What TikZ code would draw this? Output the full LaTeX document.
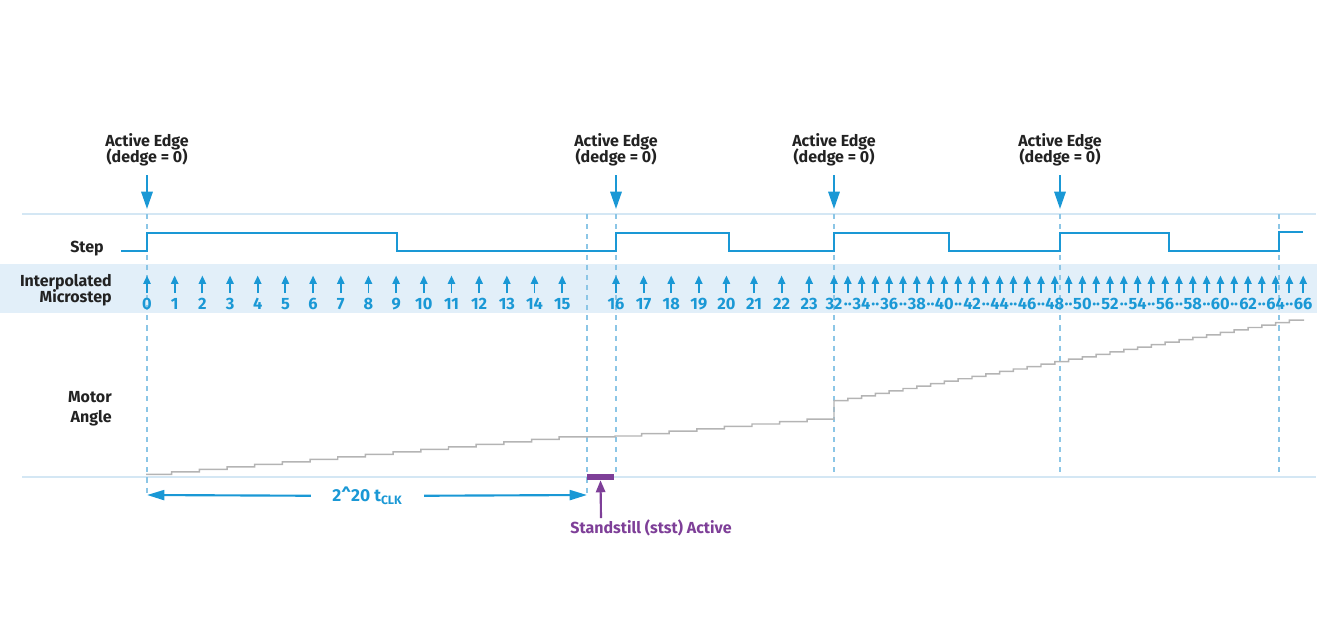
\documentclass[tikz,border=0pt]{standalone}
\usepackage{fontspec}
\setmainfont{Fira Sans}
\usetikzlibrary{arrows.meta}
\definecolor{adiblue}{HTML}{1A98D5}
\definecolor{bandblue}{HTML}{E2EFF9}
\definecolor{rulecol}{HTML}{D4E7F4}
\definecolor{dashblue}{HTML}{8CC6E6}
\definecolor{stair}{HTML}{B4B4B4}
\definecolor{ststcol}{HTML}{7E3F98}
\definecolor{ink}{HTML}{222222}
\newcommand\mytightlines{\lineskiplimit-20pt\relax}
\begin{document}
\begin{tikzpicture}[x=0.75pt,y=-0.75pt,
  lbl/.style={font=\bfseries\fontsize{12}{12}\selectfont\mytightlines, text=ink, inner sep=0pt},
  num/.style={font=\bfseries\fontsize{12.3}{12}\selectfont, text=adiblue, inner sep=0pt, anchor=base},
  msarrow/.style={adiblue, line width=1.4pt, -{Triangle[length=6.3pt,width=5.4pt]}},
  aearrow/.style={adiblue, line width=1.6pt, -{Triangle[length=13pt,width=8.5pt]}},
  dimarrow/.style={adiblue, line width=1.6pt, -{Triangle[length=13pt,width=7.5pt]}},
  ststarrow/.style={ststcol, line width=1.6pt, -{Triangle[length=9pt,width=7pt]}},
  dashln/.style={dashblue, line width=1.1pt, dash pattern=on 3.8pt off 3.8pt},
  ruleln/.style={rulecol, line width=1pt},
  stepln/.style={adiblue, line width=1.5pt, line join=miter},
  stairln/.style={stair, line width=1.1pt},
]
\useasboundingbox (0,0) rectangle (1320,636);

% band and rules
\fill[bandblue] (0,264) rectangle (1317,313);
\draw[ruleln] (22,214) -- (1316,214);
\draw[ruleln] (22,477) -- (1316,477);

% dashed markers
\foreach \xx/\yy in {147/497,587/497,616/477,834/477,1060/477,1279/477}{
  \coordinate (dt\xx) at (\xx,214);
  \coordinate (db\xx) at (\xx,\yy);
  \draw[dashln] (dt\xx) -- (db\xx);
}

% left labels
\node[lbl, anchor=east] (steplbl) at (104,248.5) {Step};
\node[lbl, anchor=east, align=right, font=\bfseries\fontsize{12}{11.8}\selectfont\mytightlines] (msl) at (112,290.5) {Interpolated\\Microstep};
\node[lbl, anchor=east, align=right, font=\bfseries\fontsize{12}{15}\selectfont\mytightlines] (mal) at (112,408.5) {Motor\\Angle};

% active edges
\foreach \xx [count=\k] in {147,616,834,1060}{
  \node[lbl, align=center] (ae\k) at (\xx,150) {Active Edge\\(dedge = 0)};
  \coordinate (aet\k) at (\xx,175);
  \coordinate (aeb\k) at (\xx,209);
  \draw[aearrow] (aet\k) -- (aeb\k);
}

% step waveform
\draw[stepln] (121,250.7) -- (147,250.7) -- (147,232.7) -- (397,232.7) -- (397,250.7)
  -- (616,250.7) -- (616,232.7) -- (729,232.7) -- (729,250.7)
  -- (834,250.7) -- (834,232.7) -- (949,232.7) -- (949,250.7)
  -- (1060,250.7) -- (1060,232.7) -- (1169,232.7) -- (1169,250.7)
  -- (1279,250.7) -- (1279,232) -- (1303,232);

% microstep arrows and labels
\foreach \n in {0,...,15}{
  \pgfmathsetmacro{\xx}{147+27.68*\n}
  \coordinate (mb\n) at (\xx,293);
  \coordinate (mt\n) at (\xx,275.5);
  \draw[msarrow] (mb\n) -- (mt\n);
  \node[num] (ms\n) at (\xx,309.5) {\n};
}
\foreach \n in {16,...,23}{
  \pgfmathsetmacro{\xx}{616+27.6*(\n-16)}
  \coordinate (mb\n) at (\xx,293);
  \coordinate (mt\n) at (\xx,275.5);
  \draw[msarrow] (mb\n) -- (mt\n);
  \node[num] (ms\n) at (\xx,309.5) {\n};
}
\foreach \n in {32,...,66}{
  \pgfmathsetmacro{\xx}{834+13.8*(\n-32)}
  \coordinate (mb\n) at (\xx,293);
  \coordinate (mt\n) at (\xx,275.5);
  \draw[msarrow] (mb\n) -- (mt\n);
  \pgfmathparse{int(mod(\n,2))}
  \ifnum\pgfmathresult=0
    \node[num] (ms\n) at (\xx,309.5) {\n};
  \else
    \node[num] (ms\n) at (\xx,309.5) {··};
  \fi
}

% motor angle staircase
\draw[stairln] (146,474.3)
  \foreach \i [evaluate=\i as \xs using 147+27.68*\i-3,
               evaluate=\i as \ya using 474.3-2.5*(\i-1),
               evaluate=\i as \yb using 474.3-2.5*\i] in {1,...,15} { -- (\xs,\ya) -- (\xs,\yb) }
  -- (615,436.8) -- (615,436)
  \foreach \i [evaluate=\i as \xs using 616+27.6*(\i-16)-2,
               evaluate=\i as \ya using 436-2.4*(\i-17),
               evaluate=\i as \yb using 436-2.4*(\i-16)] in {17,...,23} { -- (\xs,\ya) -- (\xs,\yb) }
  -- (834,419.2) -- (834,400.7)
  \foreach \i [evaluate=\i as \xs using 834+13.8*(\i-32),
               evaluate=\i as \ya using 400.7-2.44*(\i-33),
               evaluate=\i as \yb using 400.7-2.44*(\i-32)] in {33,...,65} { -- (\xs,\ya) -- (\xs,\yb) }
  -- (1304,320.2);

% 2^20 tCLK dimension
\coordinate (dimL) at (147,495);
\coordinate (dimR) at (587,495);
\node[lbl, text=adiblue, inner xsep=16pt, font=\bfseries\fontsize{13}{13}\selectfont] (dim) at (367.5,496) {2\textasciicircum 20 t\textsubscript{CLK}};
\draw[dimarrow] (dim) -- (dimL);
\draw[dimarrow] (dim) -- (dimR);

% standstill
\node[fill=ststcol, inner sep=0pt, minimum width=20.2pt, minimum height=4.5pt] (bar) at (600.5,477) {};
\node[lbl, text=ststcol] (ststlbl) at (651,528) {Standstill (stst) Active};
\coordinate (ststa) at (601,518);
\draw[ststarrow] (ststa) -- (bar.south);
\end{tikzpicture}
\end{document}
